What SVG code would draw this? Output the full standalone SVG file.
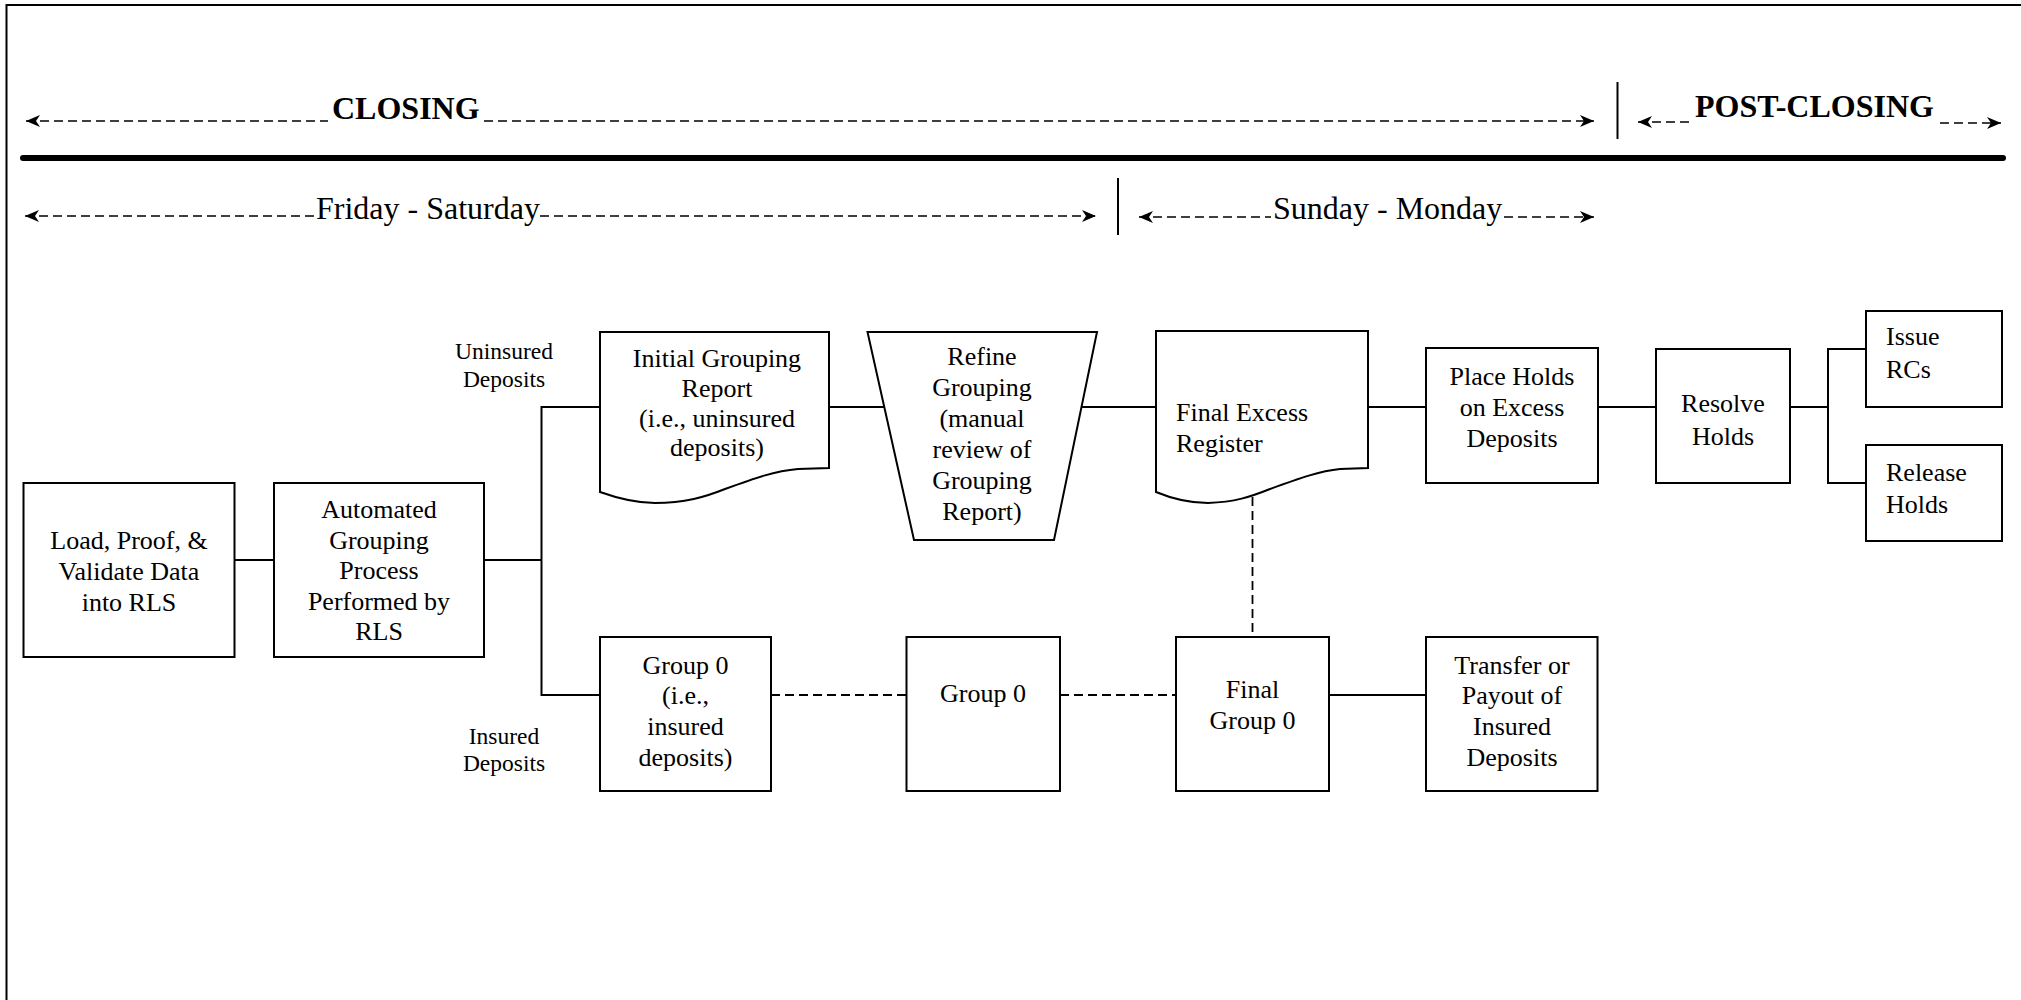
<svg xmlns="http://www.w3.org/2000/svg" width="2021" height="1000" viewBox="0 0 2021 1000">
<defs>
<style>
text{font-family:"Liberation Serif","Times New Roman",serif;fill:#000}
.t{font-size:26px}
.c{text-anchor:middle}
.lbl{font-size:23.5px;text-anchor:middle}
.hdr{font-size:32px}
.b{font-weight:bold}
.box{fill:#fff;stroke:#000;stroke-width:2}
.ln{fill:none;stroke:#000;stroke-width:2}
.dl{fill:none;stroke:#000;stroke-width:1.8;stroke-dasharray:9 5}
.da{fill:none;stroke:#000;stroke-width:1.6;stroke-dasharray:9 5}
</style>
<marker id="ah" viewBox="0 0 14 12" refX="14" refY="6" markerWidth="14" markerHeight="12" orient="auto-start-reverse" markerUnits="userSpaceOnUse">
<path d="M0,0 L14,6 L0,12 L4,6 Z" fill="#000"/>
</marker>
</defs>
<rect width="2021" height="1000" fill="#fff"/>
<!-- frame -->
<path d="M6.5,1000 V5 H2021" class="ln" stroke-width="1.6"/>

<!-- header -->
<g id="header">
<line x1="26" y1="121" x2="328" y2="121" class="da" marker-start="url(#ah)"/>
<text x="332" y="119" class="hdr b">CLOSING</text>
<line x1="484" y1="121" x2="1594" y2="121" class="da" marker-end="url(#ah)"/>
<line x1="1617.5" y1="82" x2="1617.5" y2="139" class="ln"/>
<line x1="1638" y1="122" x2="1692" y2="122" class="da" marker-start="url(#ah)"/>
<text x="1695" y="117" class="hdr b">POST-CLOSING</text>
<line x1="1940" y1="123" x2="2001" y2="123" class="da" marker-end="url(#ah)"/>
<line x1="23" y1="158" x2="2003" y2="158" stroke="#000" stroke-width="6" stroke-linecap="round"/>
<line x1="25" y1="216" x2="314" y2="216" class="da" marker-start="url(#ah)"/>
<text x="316" y="219" class="hdr">Friday - Saturday</text>
<line x1="540" y1="216" x2="1096" y2="216" class="da" marker-end="url(#ah)"/>
<line x1="1118" y1="178" x2="1118" y2="235" class="ln"/>
<line x1="1139" y1="217" x2="1271" y2="217" class="da" marker-start="url(#ah)"/>
<text x="1273" y="219" class="hdr">Sunday - Monday</text>
<line x1="1504" y1="217" x2="1594" y2="217" class="da" marker-end="url(#ah)"/>
</g>

<!-- connectors -->
<g id="connectors">
<line x1="234" y1="560" x2="274" y2="560" class="ln"/>
<line x1="484" y1="560" x2="541.5" y2="560" class="ln"/>
<path d="M600,407 H541.5 V695 H600" class="ln"/>
<line x1="829" y1="407" x2="884" y2="407" class="ln"/>
<line x1="1081" y1="407" x2="1156" y2="407" class="ln"/>
<line x1="1368" y1="407" x2="1426" y2="407" class="ln"/>
<line x1="1598" y1="407" x2="1656" y2="407" class="ln"/>
<line x1="1790" y1="407" x2="1828" y2="407" class="ln"/>
<path d="M1866,349 H1828 V483 H1866" class="ln"/>
<line x1="771" y1="695" x2="906" y2="695" class="dl"/>
<line x1="1060" y1="695" x2="1176" y2="695" class="dl"/>
<line x1="1329" y1="695" x2="1426" y2="695" class="ln"/>
<line x1="1252.5" y1="497" x2="1252.5" y2="637" class="dl"/>
</g>

<g id="lbl-uninsured">
<text class="lbl" x="504" y="359">Uninsured</text>
<text class="lbl" x="504" y="387">Deposits</text>
</g>
<g id="lbl-insured">
<text class="lbl" x="504" y="744">Insured</text>
<text class="lbl" x="504" y="771">Deposits</text>
</g>

<g id="load">
<rect class="box" x="23.5" y="483" width="211" height="174"/>
<text class="t c" x="129" y="549">Load, Proof, &amp;</text>
<text class="t c" x="129" y="580">Validate Data</text>
<text class="t c" x="129" y="611">into RLS</text>
</g>

<g id="auto">
<rect class="box" x="274" y="483" width="210" height="174"/>
<text class="t c" x="379" y="518">Automated</text>
<text class="t c" x="379" y="548.5">Grouping</text>
<text class="t c" x="379" y="579">Process</text>
<text class="t c" x="379" y="609.5">Performed by</text>
<text class="t c" x="379" y="640">RLS</text>
</g>

<g id="initial">
<path class="box" d="M600,332 H829 V468 L798,469 C775,471 755,478 725,489 C705,497 685,503 655,503 C632,503 614,497 600,492 Z"/>
<text class="t c" x="717" y="367">Initial Grouping</text>
<text class="t c" x="717" y="397">Report</text>
<text class="t c" x="717" y="427">(i.e., uninsured</text>
<text class="t c" x="717" y="456">deposits)</text>
</g>

<g id="refine">
<path class="box" d="M867.5,332 H1097 L1054,540 H914 Z"/>
<text class="t c" x="982" y="365">Refine</text>
<text class="t c" x="982" y="396">Grouping</text>
<text class="t c" x="982" y="427">(manual</text>
<text class="t c" x="982" y="458">review of</text>
<text class="t c" x="982" y="489">Grouping</text>
<text class="t c" x="982" y="520">Report)</text>
</g>

<g id="final-excess">
<path class="box" d="M1156,331 H1368 V468 L1340,469 C1320,471 1300,478 1270,489 C1250,497 1235,502 1208,503 C1185,503 1168,497 1156,492 Z"/>
<text class="t" x="1176" y="421">Final Excess</text>
<text class="t" x="1176" y="452">Register</text>
</g>

<g id="place-holds">
<rect class="box" x="1426" y="348" width="172" height="135"/>
<text class="t c" x="1512" y="385">Place Holds</text>
<text class="t c" x="1512" y="416">on Excess</text>
<text class="t c" x="1512" y="447">Deposits</text>
</g>

<g id="resolve">
<rect class="box" x="1656" y="349" width="134" height="134"/>
<text class="t c" x="1723" y="412">Resolve</text>
<text class="t c" x="1723" y="445">Holds</text>
</g>

<g id="issue">
<rect class="box" x="1866" y="311" width="136" height="96"/>
<text class="t" x="1886" y="345">Issue</text>
<text class="t" x="1886" y="378">RCs</text>
</g>

<g id="release">
<rect class="box" x="1866" y="445" width="136" height="96"/>
<text class="t" x="1886" y="481">Release</text>
<text class="t" x="1886" y="513">Holds</text>
</g>

<g id="group0-insured">
<rect class="box" x="600" y="637" width="171" height="154"/>
<text class="t c" x="685.5" y="674">Group 0</text>
<text class="t c" x="685.5" y="704">(i.e.,</text>
<text class="t c" x="685.5" y="735">insured</text>
<text class="t c" x="685.5" y="766">deposits)</text>
</g>

<g id="group0">
<rect class="box" x="906.5" y="637" width="153.5" height="154"/>
<text class="t c" x="983" y="701.5">Group 0</text>
</g>

<g id="final-group0">
<rect class="box" x="1176" y="637" width="153" height="154"/>
<text class="t c" x="1252.5" y="698">Final</text>
<text class="t c" x="1252.5" y="729">Group 0</text>
</g>

<g id="transfer">
<rect class="box" x="1426" y="637" width="171.5" height="154"/>
<text class="t c" x="1512" y="674">Transfer or</text>
<text class="t c" x="1512" y="704">Payout of</text>
<text class="t c" x="1512" y="735">Insured</text>
<text class="t c" x="1512" y="766">Deposits</text>
</g>
</svg>
